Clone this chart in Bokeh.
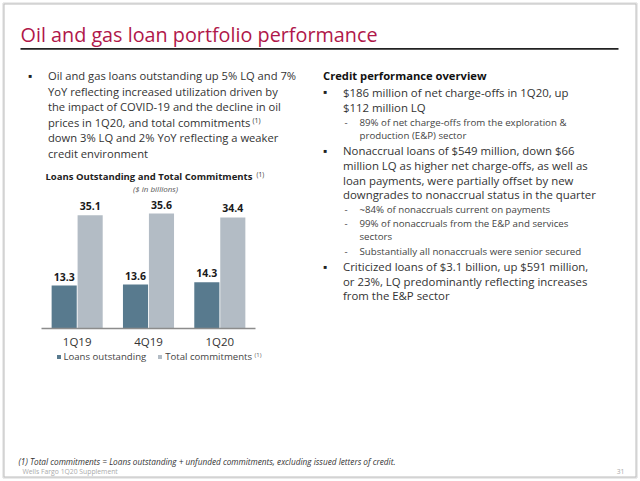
from bokeh.plotting import figure
from bokeh.models import (ColumnDataSource, Range1d, Label, LabelSet, Legend, LegendItem,
                          BoxAnnotation, LinearAxis, FixedTicker)
from bokeh.transform import dodge
from bokeh.core.properties import value
from bokeh.embed import file_html
from bokeh.resources import INLINE

# ---------------- data ----------------
quarters = ["1Q19", "4Q19", "1Q20"]
loans_outstanding = [13.3, 13.6, 14.3]
total_commitments = [35.1, 35.6, 34.4]
series_names = ["Loans outstanding", "Total commitments"]

slide_title = "Oil and gas loan portfolio performance"
chart_title = "Loans Outstanding and Total Commitments"
chart_unit = "($ in billions)"
left_lines = [
    "Oil and gas loans outstanding up 5% LQ and 7%",
    "YoY reflecting increased utilization driven by",
    "the impact of COVID-19 and the decline in oil",
    "prices in 1Q20, and total commitments",
    "down 3% LQ and 2% YoY reflecting a weaker",
    "credit environment",
]
right_texts = [
    "Credit performance overview",
    "$186 million of net charge-offs in 1Q20, up",
    "$112 million LQ",
    "89% of net charge-offs from the exploration &",
    "production (E&P) sector",
    "Nonaccrual loans of $549 million, down $66",
    "million LQ as higher net charge-offs, as well as",
    "loan payments, were partially offset by new",
    "downgrades to nonaccrual status in the quarter",
    "~84% of nonaccruals current on payments",
    "99% of nonaccruals from the E&P and services",
    "sectors",
    "Substantially all nonaccruals were senior secured",
    "Criticized loans of $3.1 billion, up $591 million,",
    "or 23%, LQ predominantly reflecting increases",
    "from the E&P sector",
]
right_kinds = ["head", "bullet", "main", "dash", "sub", "bullet", "main", "main", "main",
               "dash", "dash", "sub", "dash", "bullet", "main", "main"]
footnote = "(1) Total commitments = Loans outstanding + unfunded commitments, excluding issued letters of credit."
footer_left = "Wells Fargo 1Q20 Supplement"
footer_page = "31"

# ---------------- layout ----------------
W, H = 638, 479
UNIT_X, X0_PAGE = 71.33, 41.0      # px per category, page x of category-axis start
UNIT_Y, BASE_PAGE = 3.23, 328.0     # px per $bn, page y of the zero line


def sx(px):
    return px


def sy(py):
    return H - py


FONT = "Open Sans"
BODY = "#333333"
LOAN_C = "#587a8e"
TOT_C = "#b3bcc5"

p = figure(width=W, height=H, title=None,
           x_range=Range1d(-X0_PAGE / UNIT_X, (W - X0_PAGE) / UNIT_X),
           y_range=Range1d(-(H - BASE_PAGE) / UNIT_Y, BASE_PAGE / UNIT_Y),
           output_backend="svg", toolbar_location=None,
           x_axis_location=None, y_axis_location=None,
           min_border_left=0, min_border_right=0, min_border_top=0, min_border_bottom=0)
p.outline_line_color = None
p.grid.visible = False
p.background_fill_color = "white"
p.border_fill_color = "white"

xpos = [i + 0.5 for i in range(len(quarters))]
ax = LinearAxis(fixed_location=0, bounds=(0, len(quarters)),
                ticker=FixedTicker(ticks=xpos),
                major_label_overrides={x: q for x, q in zip(xpos, quarters)})
ax.axis_line_color = "#8c8c8c"
ax.axis_line_width = 1.5
ax.major_tick_line_color = None
ax.minor_tick_line_color = None
ax.major_tick_out = 0
ax.major_tick_in = 0
ax.minor_tick_out = 0
ax.major_label_text_font = FONT
ax.major_label_text_font_size = "11.5px"
ax.major_label_text_color = "#333333"
ax.major_label_standoff = 5
p.add_layout(ax, "below")

src = ColumnDataSource(dict(
    x=xpos, q=quarters, loans=loans_outstanding, total=total_commitments,
    loans_txt=[f"{v:.1f}" for v in loans_outstanding],
    total_txt=[f"{v:.1f}" for v in total_commitments]))

BW = 0.364
r1 = p.vbar(x=dodge("x", -BW / 2), top="loans", width=BW - 0.012,
            source=src, fill_color=LOAN_C, line_color=None)
r2 = p.vbar(x=dodge("x", BW / 2), top="total", width=BW - 0.012,
            source=src, fill_color=TOT_C, line_color=None)

for off, col in ((-BW / 2, "loans"), (BW / 2, "total")):
    p.add_layout(LabelSet(x=dodge("x", off), y=col, text=col + "_txt", source=src, y_offset=9,
                          text_align="center", text_baseline="middle",
                          text_font=value(FONT), text_font_style="bold",
                          text_font_size="10.5px", text_color="#1a1a1a"))

legend = Legend(items=[LegendItem(label=series_names[0], renderers=[r1]),
                       LegendItem(label=series_names[1], renderers=[r2])],
                location=(sx(55.5), sy(363)), orientation="horizontal",
                glyph_width=5, glyph_height=5, label_standoff=3, spacing=11,
                padding=0, margin=0, border_line_color=None, background_fill_alpha=0,
                label_text_font=FONT, label_text_font_size="9.6px",
                label_text_color="#444444", label_height=12)
p.add_layout(legend)


def txt(px, py, text, size, color=BODY, style="normal", align="left", baseline="middle"):
    p.add_layout(Label(x=sx(px), y=sy(py), x_units="screen", y_units="screen", text=text,
                       text_font=FONT, text_font_size=f"{size}px", text_color=color,
                       text_font_style=style, text_align=align, text_baseline=baseline))


def box(x0, x1, y0, y1, fill=None, line=None):
    p.add_layout(BoxAnnotation(left=sx(x0), right=sx(x1), top=sy(y0), bottom=sy(y1),
                               left_units="screen", right_units="screen",
                               top_units="screen", bottom_units="screen",
                               fill_color=fill, fill_alpha=1 if fill else 0,
                               line_color=line, line_alpha=1 if line else 0, line_width=1))


# slide frame
box(2.5, 636.5, 2.5, 477.5, line="#d6d6d6")
box(3.5, 635.5, 3.5, 476.5, line="#bcbcbc")

# slide title & rule
txt(20, 33.5, slide_title, 19.8, color="#b0174a")
box(20, 618, 47.6, 49.2, fill="#222222")

# left paragraph
txt(28, 75, "\u25a0", 6, color="#222222")
for i, line in enumerate(left_lines):
    txt(47.5, 75 + 15.5 * i, line, 11.2)
txt(252, 119.5, "(1)", 7)

# chart titles
txt(45, 176, chart_title, 9.5, color="#222222", style="bold")
txt(256, 173.5, "(1)", 6.5)
txt(155, 187.5, chart_unit, 8, color="#555555", style="italic", align="center")
txt(254, 354, "(1)", 6, color="#666666")

# right column
ry = [75, 91.5, 106.5, 121.5, 134.5, 150, 165, 179.5, 194, 209, 223, 236, 251, 266, 280.5, 295]
for y, kind, line in zip(ry, right_kinds, right_texts):
    if kind == "head":
        txt(322.5, y, line, 11.2, color="#111111", style="bold")
    elif kind in ("bullet", "main"):
        if kind == "bullet":
            txt(323, y, "\u25a0", 6, color="#222222")
        txt(342.5, y, line, 11.4)
    else:
        if kind == "dash":
            txt(344, y, "-", 9.7, color="#444444")
        txt(359, y, line, 9.7, color="#444444")

# footer
txt(18, 461, footnote, 8.25, color="#333333", style="italic")
txt(22, 470.5, footer_left, 6.8, color="#aaaaaa")
txt(624, 470.5, footer_page, 6.8, color="#aaaaaa", align="right")

open("out.html", "w").write(file_html(p, INLINE))
